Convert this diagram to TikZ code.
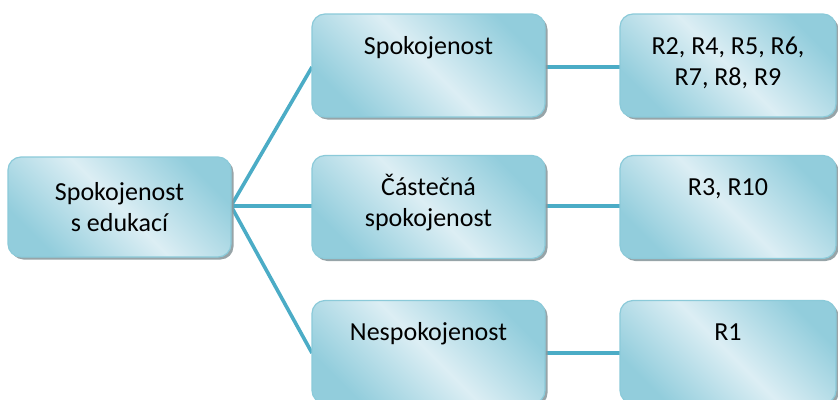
\documentclass[tikz,border=0pt]{standalone}
\usepackage{fontspec}
\setmainfont{Carlito}
\usetikzlibrary{shadows}
\definecolor{boxlight}{HTML}{DCEEF4}
\definecolor{boxdark}{HTML}{92CDDC}
\definecolor{boxedge}{HTML}{8BCAD9}
\definecolor{connline}{HTML}{4BACC6}
\definecolor{shadowgrey}{HTML}{8C9A9E}
% lines stacked from the first baseline down
\newcommand{\toplines}[1]{\begin{tabular}[t]{@{}c@{}}#1\end{tabular}}
\begin{document}
\begin{tikzpicture}[x=1pt,y=-1pt,
  box/.style={draw=boxedge, line width=1.2pt, rounded corners=13pt,
    top color=boxdark, bottom color=boxdark, middle color=boxlight,
    shading angle=-45,
    drop shadow={shadow xshift=2.5pt, shadow yshift=-2.5pt,
      fill=shadowgrey, opacity=0.9},
    inner sep=0pt},
  midbox/.style={box, minimum width=233pt, minimum height=103pt},
  endbox/.style={box, minimum width=216pt, minimum height=103pt},
  lbl/.style={font=\fontsize{26}{31}\selectfont, inner sep=0pt,
    anchor=base, yshift=-41pt},
  conn/.style={draw=connline, line width=3.6pt}]
  \useasboundingbox (0,0) rectangle (838,399);
  \clip (0,0) rectangle (838,399);

  % connectors
  \coordinate (hub) at (231,206);
  \coordinate (m1in) at (312,67);
  \coordinate (m2in) at (312,206);
  \coordinate (m3in) at (312,353);
  \draw[conn] (hub) -- (m1in);
  \draw[conn] (hub) -- (m2in);
  \draw[conn] (hub) -- (m3in);
  \draw[conn] (m1in -| 545,0) -- (m1in -| 620,0);
  \draw[conn] (m2in -| 545,0) -- (m2in -| 620,0);
  \draw[conn] (m3in -| 545,0) -- (m3in -| 620,0);

  % root
  \node[box, minimum width=223pt, minimum height=100pt,
    font=\fontsize{26}{31}\selectfont, align=center] (root) at (119.5,207)
    {Spokojenost\\s edukací};

  % second level
  \node[midbox] (m1) at (428.5,65.5) {};
  \node[midbox] (m2) at (428.5,207) {};
  \node[midbox] (m3) at (428.5,352) {};
  \node[lbl] (m1t) at (m1.north) {Spokojenost};
  \node[lbl] (m2t) at (m2.north) {\toplines{Částečná\\spokojenost}};
  \node[lbl] (m3t) at (m3.north) {Nespokojenost};

  % third level
  \node[endbox] (r1) at (728,65.5) {};
  \node[endbox] (r2) at (728,207) {};
  \node[endbox] (r3) at (728,352) {};
  \node[lbl] (r1t) at (r1.north) {\toplines{R2, R4, R5, R6,\\R7, R8, R9}};
  \node[lbl] (r2t) at (r2.north) {R3, R10};
  \node[lbl] (r3t) at (r3.north) {R1};
\end{tikzpicture}
\end{document}
